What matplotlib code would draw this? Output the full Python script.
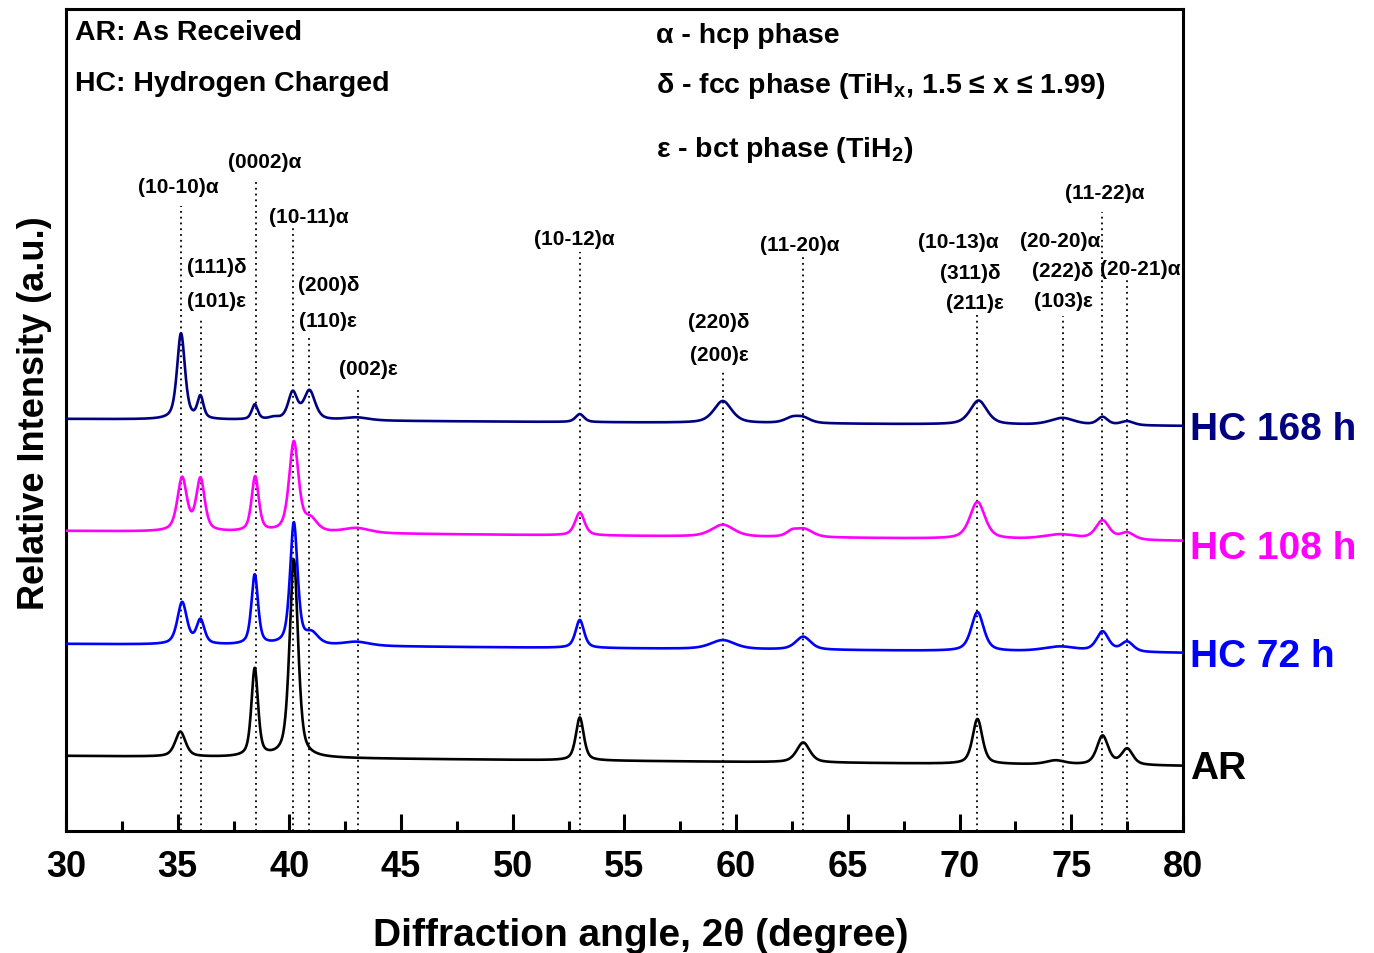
import numpy as np
import matplotlib
matplotlib.use("Agg")
import matplotlib.pyplot as plt

plt.rcParams['font.family'] = ['Liberation Sans', 'DejaVu Sans']
plt.rcParams['font.weight'] = 'bold'
plt.rcParams['mathtext.fontset'] = 'custom'
plt.rcParams['mathtext.rm'] = 'Liberation Sans:bold'
plt.rcParams['mathtext.bf'] = 'Liberation Sans:bold'
plt.rcParams['mathtext.it'] = 'Liberation Sans:bold'

###########################
### Data ###
###########################

# pattern names and colours
samples = ['AR', 'HC 72 h', 'HC 108 h', 'HC 168 h']
colors = ['black', '#0000FF', '#FF00FF', '#000080']

# baseline level at 30 deg and 80 deg (arbitrary units)
base_start = [75, 187, 300, 412]
base_end = [65, 178, 290, 405]

# peaks: position (2theta), height above baseline, FWHM
ar_pos = [35.12, 38.45, 40.2, 53.0, 63.0, 70.8, 74.3, 76.4, 77.5]
ar_h = [25, 88, 198, 43, 20, 45, 4, 29, 16]
ar_w = [0.55, 0.35, 0.45, 0.42, 0.7, 0.52, 1.0, 0.6, 0.6]

hc72_pos = [35.2, 36.02, 38.45, 40.2, 41.0, 43.0, 53.0, 59.4, 63.0, 70.8, 74.5, 76.4, 77.5]
hc72_h = [42, 24, 70, 122, 11, 4, 28, 9, 13, 39, 5, 20, 10]
hc72_w = [0.5, 0.42, 0.35, 0.4, 0.7, 1.4, 0.45, 1.3, 0.8, 0.66, 1.8, 0.65, 0.65]

hc108_pos = [35.2, 36.02, 38.47, 40.2, 40.95, 43.0, 53.0, 59.4, 62.5, 63.05, 70.8, 74.5, 76.4, 77.5]
hc108_h = [53, 52, 55, 90, 12, 5, 23, 12, 5, 8, 37, 5, 19, 7]
hc108_w = [0.5, 0.45, 0.38, 0.5, 0.7, 1.4, 0.5, 1.2, 0.6, 0.9, 0.8, 1.8, 0.72, 0.75]

hc168_pos = [35.15, 36.02, 38.45, 39.3, 40.15, 40.9, 43.0, 53.0, 59.4, 62.5, 63.0, 70.85, 74.6, 76.4, 77.5]
hc168_h = [86, 22, 15, 2, 27, 29, 3, 8, 22, 5, 5, 24, 7, 8, 4]
hc168_w = [0.42, 0.32, 0.32, 0.5, 0.48, 0.6, 1.3, 0.45, 0.95, 0.8, 0.8, 0.9, 1.3, 0.55, 0.7]

peaks = [(ar_pos, ar_h, ar_w), (hc72_pos, hc72_h, hc72_w),
         (hc108_pos, hc108_h, hc108_w), (hc168_pos, hc168_h, hc168_w)]

# reference lines: position and top of line
ref_pos = [35.15, 36.04, 38.5, 40.16, 40.88, 43.07, 53.0, 59.41, 62.99, 70.78, 74.63, 76.37, 77.49]
ref_top = [625, 512, 650, 604, 494, 442, 579, 460, 574, 517, 515, 619, 554]

# peak labels
lab_text = ['(10-10)α', '(0002)α', '(10-11)α', '(111)δ', '(101)ε', '(200)δ', '(110)ε', '(002)ε',
            '(10-12)α', '(11-20)α', '(220)δ', '(200)ε', '(10-13)α', '(311)δ', '(211)ε',
            '(20-20)α', '(222)δ', '(103)ε', '(11-22)α', '(20-21)α']
lab_x = [35.01, 38.91, 40.88, 36.76, 36.76, 41.77, 41.73, 43.52,
         52.74, 62.86, 59.23, 59.23, 69.93, 70.47, 70.69,
         74.49, 74.63, 74.63, 76.51, 78.08]
lab_y = [644, 669, 614, 564, 530, 546, 510, 462,
         592, 586, 509, 476, 589, 558, 528,
         590, 560, 530, 638, 562]

# sample label heights (right side)
name_y = [63, 175, 283, 402]


def pseudo_voigt(x, c, h, w, eta=0.55):
    hw = w / 2.0
    lor = 1.0 / (1.0 + ((x - c) / hw) ** 2)
    gau = np.exp(-np.log(2) * ((x - c) / hw) ** 2)
    return h * (eta * lor + (1 - eta) * gau)


two_theta = np.linspace(30, 80, 3000)

fig = plt.figure(figsize=(13.74, 9.54), dpi=100)
ax = fig.add_axes([0.048, 0.128, 0.813, 0.8615])

for i in range(len(samples)):
    pos, hh, ww = peaks[i]
    y = base_start[i] + (base_end[i] - base_start[i]) * (two_theta - 30) / 50.0
    for c, h, w in zip(pos, hh, ww):
        y = y + pseudo_voigt(two_theta, c, h, w)
    ax.plot(two_theta, y, color=colors[i], lw=1.9, zorder=3)
    ax.text(80.3, name_y[i], samples[i], color=colors[i], fontsize=28,
            fontweight='bold', va='center', ha='left', clip_on=False)

for xp, yt in zip(ref_pos, ref_top):
    ax.vlines(xp, 0, yt, colors='black', linestyles=(0, (1, 2.2)), lw=1.3, zorder=2)

for t, xl, yl in zip(lab_text, lab_x, lab_y):
    ax.text(xl, yl, t, fontsize=15, fontweight='bold', ha='center', va='center')

ax.text(30.4, 799, 'AR: As Received', fontsize=20.5, fontweight='bold', va='center')
ax.text(30.4, 748, 'HC: Hydrogen Charged', fontsize=20.5, fontweight='bold', va='center')
ax.text(56.4, 796, 'α - hcp phase', fontsize=20.5, fontweight='bold', va='center')
ax.text(56.4, 746, r'δ - fcc phase (TiH$_{\mathbf{x}}$, 1.5 ≤ x ≤ 1.99)', fontsize=20.5,
        fontweight='bold', va='center')
ax.text(56.4, 682, r'ε - bct phase (TiH$_{\mathbf{2}}$)', fontsize=20.5, fontweight='bold', va='center')

ax.set_xlim(30, 80)
ax.set_ylim(0, 822)
ax.set_xticks(np.arange(30, 81, 5))
ax.set_xticks(np.arange(32.5, 80, 5), minor=True)
ax.set_yticks([])
ax.tick_params(axis='x', which='major', direction='in', length=12, width=2.2,
               labelsize=26, pad=13)
ax.tick_params(axis='x', which='minor', direction='in', length=7, width=2.2)
for lab in ax.get_xticklabels():
    lab.set_fontweight('bold')
for s in ax.spines.values():
    s.set_linewidth(2.2)

ax.set_xlabel('Diffraction angle, 2θ (degree)', fontsize=28, fontweight='bold', labelpad=24)
ax.xaxis.label.set_x(0.515)
ax.set_ylabel('Relative Intensity (a.u.)', fontsize=26, fontweight='bold', labelpad=10)
ax.yaxis.label.set_y(0.51)

fig.savefig('out.png', dpi=100)
